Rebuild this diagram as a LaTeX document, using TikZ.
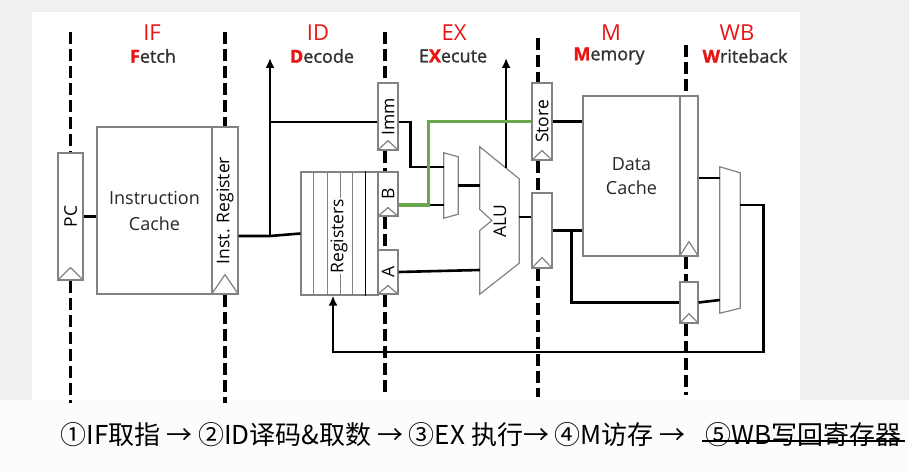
\documentclass[tikz,border=0pt]{standalone}
\usepackage{fontspec}
\setmainfont{Open Sans}
\newfontfamily\cjk{Noto Sans CJK SC}
\newfontfamily\subfont[FakeBold=1.4]{Open Sans}
\usetikzlibrary{positioning, calc, arrows.meta}

\definecolor{boxgray}{RGB}{130,130,130}
\definecolor{fwdgreen}{RGB}{106,168,79}
\definecolor{stagered}{RGB}{235,20,20}

% clock mark at the foot of a pipeline register
\newcommand{\regclock}[2]{\draw[draw=boxgray, line width=1.2pt] (#1.south west) -- ([yshift=#2]#1.south) -- (#1.south east);}

\begin{document}
\begin{tikzpicture}[x=1pt, y=-1pt, >={Latex[length=10pt, width=9pt]}, font=\fontsize{17.5}{20}\selectfont]
        % Define block styles
        \tikzstyle{block} = [rectangle, draw=boxgray, fill=white, line width=1.2pt, inner sep=0pt, text=black!85]
        \tikzstyle{port} = [rectangle, inner sep=0pt]
        \tikzstyle{wire} = [draw=black, line width=2.6pt]
        \tikzstyle{fwd} = [draw=fwdgreen, line width=3.6pt]
        \tikzstyle{stage} = [draw=black, line width=3.8pt, dash pattern=on 12pt off 5pt]
        \tikzstyle{title} = [text=stagered, font=\fontsize{22}{26}\selectfont]
        \tikzstyle{subtitle} = [text=black!80, font=\subfont\fontsize{18}{22}\selectfont]
        \tikzstyle{steptext} = [anchor=west, font=\cjk\fontsize{26}{30}\selectfont]

        % Background
        \fill[black!6] (0,0) rectangle (909,400);
        \fill[black!1] (0,400) rectangle (909,473);
        \fill[white] (32,12) rectangle (800,400);
        \useasboundingbox (0,0) rectangle (909,473);

        % Stage names
        \node[title] (iftitle) at (152,33) {IF};
        \node[subtitle] (ifsub) at (153,56) {\textbf{\textcolor{stagered}{F}}etch};
        \node[title] (idtitle) at (318,33) {ID};
        \node[subtitle] (idsub) at (322,56) {\textbf{\textcolor{stagered}{D}}ecode};
        \node[title] (extitle) at (454,33) {EX};
        \node[subtitle] (exsub) at (453,56) {E\textbf{\textcolor{stagered}{X}}ecute};
        \node[title] (mtitle) at (611,33) {M};
        \node[subtitle] (msub) at (609,56) {\textbf{\textcolor{stagered}{M}}emory};
        \node[title] (wbtitle) at (737,33) {WB};
        \node[subtitle] (wbsub) at (745,56) {\textbf{\textcolor{stagered}{W}}riteback};

        % Place nodes
        \node[block, minimum width=25pt, minimum height=127pt, label={[rotate=90]center:PC}] (pc) at (70.5,216.5) {};
        \node[block, minimum width=115pt, minimum height=167pt, align=center, font=\fontsize{18}{26}\selectfont] (icache) at (154.5,210.5) {Instruction\\Cache};
        \node[block, minimum width=26pt, minimum height=167pt, label={[rotate=90]center:Inst. Register}] (ireg) at (225,210.5) {};
        \node[block, minimum width=77pt, minimum height=123pt] (regs) at (339.5,233.5) {};
        \node[block, minimum width=20pt, minimum height=67pt, label={[rotate=90]center:Imm}] (imm) at (388,116.5) {};
        \node[block, minimum width=20pt, minimum height=44pt, label={[rotate=90]center:B}] (regB) at (388,194) {};
        \node[block, minimum width=20pt, minimum height=44pt, label={[rotate=90]center:A}] (regA) at (388,272) {};
        \node[port, minimum width=14pt, minimum height=65pt] (mux1) at (451,185.5) {};
        \node[port, minimum width=39pt, minimum height=147pt] (alu) at (499.5,220.5) {};
        \node[block, minimum width=20pt, minimum height=77pt, label={[rotate=90]center:Store}] (store) at (542,121.5) {};
        \node[block, minimum width=20pt, minimum height=75pt] (exout) at (542,230.5) {};
        \node[block, minimum width=97pt, minimum height=160pt, align=center, font=\fontsize{18}{24}\selectfont] (dcache) at (631.5,176) {Data\\Cache};
        \node[block, minimum width=18pt, minimum height=160pt] (mwb) at (689,176) {};
        \node[block, minimum width=18pt, minimum height=41pt] (wbreg) at (689,302.5) {};
        \node[port, minimum width=20pt, minimum height=146pt] (mux2) at (730,240) {};

        % Register file, muxes and ALU outlines
        \foreach \dx in {13,27,40,52}
            \draw[boxgray, line width=1.2pt] ([xshift=\dx pt]regs.north west) -- ([xshift=\dx pt]regs.south west);
        \draw[black, line width=1.2pt] ([xshift=65pt]regs.north west) -- ([xshift=65pt]regs.south west);
        \node[rotate=90, fill=white, inner sep=1pt] (regslabel) at (339,236) {Registers};
        \draw[block] (mux1.north west) -- ([yshift=-4pt]mux1.north east) -- ([yshift=4pt]mux1.south east) -- (mux1.south west) -- cycle;
        \draw[block] (mux2.north west) -- ([yshift=-6pt]mux2.north east) -- ([yshift=5pt]mux2.south east) -- (mux2.south west) -- cycle;
        \draw[block] (alu.north west) -- ([yshift=-32pt]alu.north east) -- ([yshift=31pt]alu.south east) -- (alu.south west)
            -- ([yshift=-10pt]alu.west) -- ([xshift=12pt]alu.west) -- ([yshift=11pt]alu.west) -- cycle;
        \node[rotate=90] (alulabel) at (500,221) {ALU};

        % Clocks
        \regclock{pc}{13pt}
        \regclock{ireg}{20pt}
        \regclock{imm}{10pt}
        \regclock{regB}{9pt}
        \regclock{regA}{9pt}
        \regclock{store}{10pt}
        \regclock{exout}{11pt}
        \regclock{mwb}{15pt}
        \regclock{wbreg}{10pt}

        % Stage boundaries
        \coordinate (ifbar) at (70.5,32);   \coordinate (ifend) at (70.5,403);
        \coordinate (idbar) at (225,32);    \coordinate (idend) at (225,403);
        \coordinate (exbar) at (385,32);    \coordinate (exend) at (385,392);
        \coordinate (membar) at (538,38);   \coordinate (memend) at (538,397);
        \coordinate (wbbar) at (686,45);    \coordinate (wbend) at (686,395);
        \draw[stage] (ifbar) -- (ifbar |- pc.north);
        \draw[stage] (ifbar |- pc.south) -- (ifend);
        \draw[stage] (idbar) -- (idbar |- ireg.north);
        \draw[stage] (idbar |- ireg.south) -- (idend);
        \draw[stage] (exbar) -- (exbar |- imm.north);
        \draw[stage] (exbar |- imm.south) -- (exbar |- regB.north);
        \draw[stage] (exbar |- regB.south) -- (exbar |- regA.north);
        \draw[stage] (exbar |- regA.south) -- (exend);
        \draw[stage] (membar) -- (membar |- store.north);
        \draw[stage] (membar |- store.south) -- (membar |- exout.north);
        \draw[stage] (membar |- exout.south) -- (memend);
        \draw[stage] (wbbar) -- (wbbar |- mwb.north);
        \draw[stage] (wbbar |- mwb.south) -- (wbbar |- wbreg.north);
        \draw[stage] (wbbar |- wbreg.south) -- (wbend);

        % Draw connections as arrows
        \coordinate (idtap) at (270,236);
        \coordinate (idup) at (270,58);
        \coordinate (exup) at (506,58);
        \coordinate (aluup) at ($(alu.north west)!0.667!([yshift=-32pt]alu.north east)$);
        \coordinate (mtap) at ($(exout.east)+(19,0)$);
        \draw[wire] (pc.east) -- (pc.east -| icache.west);
        \draw[wire] ([yshift=-25.5pt]ireg.east) -- (idtap) -- (regs.west);
        \draw[wire, ->] (idtap) -- (idup);
        \draw[wire] (idtap |- imm.west) ++(0,5.5) -- ([yshift=-5.5pt]imm.west);
        \draw[wire] ([yshift=-5.5pt]imm.east) -- ++(12,0) |- ([yshift=18.5pt]mux1.west);
        \draw[wire] ([yshift=-11pt]regB.east) -- ([yshift=-19.5pt]mux1.west);
        \draw[wire] (mux1.east) -- (mux1.east -| alu.west);
        \draw[wire] (regA.east) -- ([yshift=-49.5pt]alu.west);
        \draw[wire] ([yshift=3.5pt]alu.east) -- ([yshift=13.5pt]exout.west);
        \draw[wire, ->] (aluup) -- (aluup |- exup);
        \draw[wire] (store.east) -- (store.east -| dcache.west);
        \draw[wire] (exout.east) -- (exout.east -| dcache.west);
        \draw[wire] (mtap) |- (wbreg.west);
        \draw[wire] ([yshift=-2pt]mwb.east) -- ([yshift=62pt]mux2.west);
        \draw[wire] (wbreg.east) -- ([yshift=-60pt]mux2.west);
        \draw[wire, ->] ([yshift=35pt]mux2.east) -- ++(23,0) -- ++(0,147) -| ([xshift=-6.5pt]regs.south);

        % Forwarding path
        \draw[fwd] ([yshift=-11pt]regB.east) -- ++(30,0) |- (store.west);

        % Steps below the picture
        \node[steptext] (steps) at (57,435) {①IF取指 → ②ID译码\&取数 → ③EX 执行→ ④M访存 →};
        \node[steptext] (wbstep) at (702,435) {⑤WB写回寄存器};
        \draw[line width=2.2pt] ([yshift=-6pt]wbstep.west) -- ([yshift=-6pt]wbstep.east);
\end{tikzpicture}
\end{document}
